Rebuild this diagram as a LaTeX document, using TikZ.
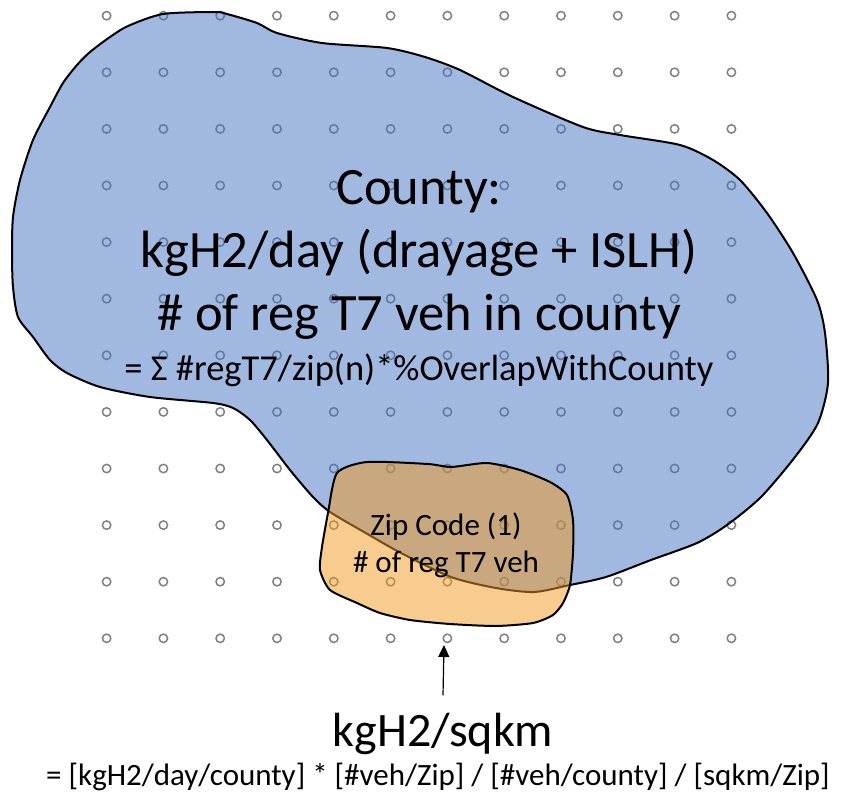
\documentclass[tikz,border=0pt]{standalone}
\usepackage{fontspec}
\setmainfont{Carlito}
\usetikzlibrary{arrows.meta, positioning}
\definecolor{countyblue}{RGB}{68,114,196}
\definecolor{ziporange}{RGB}{242,153,30}
\definecolor{dotgray}{RGB}{128,128,128}

\begin{document}
\begin{tikzpicture}[x=1pt, y=-1pt,
        dot/.style={draw=dotgray, line width=1.5pt},
        bigtext/.style={font=\fontsize{52.5}{63}\selectfont, align=center, inner sep=0pt},
        sumtext/.style={font=\fontsize{36.5}{40}\selectfont, align=center, inner sep=0pt},
        smalltext/.style={font=\fontsize{31}{40}\selectfont, align=center, inner sep=0pt},
        ziptext/.style={font=\fontsize{31}{37}\selectfont, align=center, inner sep=0pt},
        arrow/.style={-{Triangle[length=12pt, width=11pt]}, line width=1.2pt, draw=black}
    ]
        \useasboundingbox (0,0) rectangle (844,795);

        % Raster der Messpunkte
        \foreach \i in {0,...,11}
            \foreach \j in {0,...,11}
                \draw [dot] (106.6+56.8*\i, 15.7+56.6*\j) circle (4.2);

        % Landkreis
        \fill [countyblue, opacity=0.5] plot [smooth cycle, tension=0.45] coordinates {
            (128,26) (163,14) (215,12) (227,14) (257,23) (277,33) (322,43) (387,48) (425,57)
            (460,70) (513,97) (583,127) (620,135) (680,145) (713,160) (740,180) (767,213)
            (793,253) (817,300) (825,333) (828,383) (818,423) (795,457) (761,497) (727,525)
            (697,543) (651,560) (606,577) (570,585) (534,592) (496,588) (451,577) (401,553)
            (364,532) (330,512) (313,497) (290,470) (267,440) (250,420) (233,408) (213,403)
            (150,397) (100,387) (67,373) (50,360) (33,337) (18,317) (13,287) (12,253)
            (13,217) (20,180) (33,140) (50,107) (63,83) (77,65) (90,52) (110,37)};
        \draw [line width=2pt, line join=round] plot [smooth cycle, tension=0.45] coordinates {
            (128,26) (163,14) (215,12) (227,14) (257,23) (277,33) (322,43) (387,48) (425,57)
            (460,70) (513,97) (583,127) (620,135) (680,145) (713,160) (740,180) (767,213)
            (793,253) (817,300) (825,333) (828,383) (818,423) (795,457) (761,497) (727,525)
            (697,543) (651,560) (606,577) (570,585) (534,592) (496,588) (451,577) (401,553)
            (364,532) (330,512) (313,497) (290,470) (267,440) (250,420) (233,408) (213,403)
            (150,397) (100,387) (67,373) (50,360) (33,337) (18,317) (13,287) (12,253)
            (13,217) (20,180) (33,140) (50,107) (63,83) (77,65) (90,52) (110,37)};

        % Postleitzahlgebiet
        \fill [ziporange, opacity=0.5] plot [smooth cycle, tension=0.4] coordinates {
            (337,473) (367,462) (428,464) (451,467) (487,463) (520,470) (550,482) (567,495)
            (573,520) (573,553) (570,585) (563,603) (553,615) (533,623) (496,626) (450,624)
            (410,620) (380,613) (357,603) (330,590) (320,570) (322,547) (328,513)};
        \draw [line width=2pt, line join=round] plot [smooth cycle, tension=0.4] coordinates {
            (337,473) (367,462) (428,464) (451,467) (487,463) (520,470) (550,482) (567,495)
            (573,520) (573,553) (570,585) (563,603) (553,615) (533,623) (496,626) (450,624)
            (410,620) (380,613) (357,603) (330,590) (320,570) (322,547) (328,513)};

        % Beschriftungen
        \node [bigtext, anchor=base] (county) at (419,330) {County:\\kgH2/day (drayage + ISLH)\\\# of reg T7 veh in county};
        \node [sumtext, anchor=base] (countysum) at (419,380) {= Σ \#regT7/zip(n)*\%OverlapWithCounty};
        \node [ziptext, anchor=base] (zip) at (446,572) {Zip Code (1)\\\# of reg T7 veh};
        \node [font=\fontsize{48}{58}\selectfont, inner sep=0pt, inner ysep=17pt, anchor=base] (density) at (443,746) {kgH2/sqkm};
        \node [smalltext, anchor=base] (formula) at (438,785) {= [kgH2/day/county] * [\#veh/Zip] / [\#veh/county] / [sqkm/Zip]};

        \coordinate (tip) at (444,645);
        \draw [arrow] (density.north) -- (tip);
\end{tikzpicture}
\end{document}
